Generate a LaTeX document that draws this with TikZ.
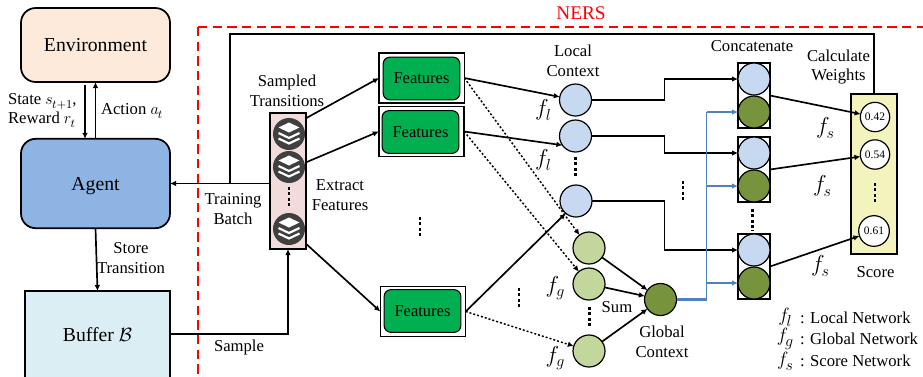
\documentclass[tikz,border=0pt]{standalone}
\usepackage{fontspec}
\setmainfont{Liberation Serif}
\usetikzlibrary{arrows.meta}
\definecolor{envc}{HTML}{FDEADA}
\definecolor{agentc}{HTML}{8EB4E3}
\definecolor{bufc}{HTML}{DBEEF4}
\definecolor{stripc}{HTML}{F2DCDB}
\definecolor{featc}{HTML}{00B050}
\definecolor{localc}{HTML}{C6D9F1}
\definecolor{greenc}{HTML}{C3D69B}
\definecolor{globc}{HTML}{77933C}
\definecolor{scorec}{HTML}{F3F3BE}
\definecolor{bluec}{HTML}{4F81BD}
\definecolor{iconc}{HTML}{404040}
\newcommand{\subb}[1]{\kern-.6pt\raisebox{-3pt}{\fontsize{9.5pt}{10pt}\selectfont$\mathsurround=0pt #1$}}
\newcommand{\fsub}[1]{$f$\kern-2.2pt\raisebox{-3.5pt}{\fontsize{11.5pt}{12pt}\selectfont$#1$}}
\tikzset{
  x=0.75pt,y=-0.75pt,
  every node/.style={inner sep=0pt,outer sep=0pt},
  line/.style={line width=1.25pt,draw=black},
  arr/.style={line,-{Latex[length=4.5pt,width=4.2pt]}},
  blarr/.style={line width=1.2pt,draw=bluec,-{Latex[length=4.5pt,width=4.2pt]}},
  dotarr/.style={line width=1.1pt,draw=black,dash pattern=on 1.5pt off 1.5pt,-{Latex[length=4.5pt,width=4.2pt]}},
  vdots/.style={line width=2pt,draw=black,dash pattern=on 2.2pt off 1.8pt},
  bigbox/.style={draw=black,line width=1.3pt,rounded corners=11pt,font=\fontsize{14.8pt}{17pt}\selectfont,minimum width=111.75pt,text depth=0pt},
  sqbox/.style={draw=black,line width=1.3pt},
  featout/.style={draw=black,line width=1.2pt,fill=white,minimum width=64pt,minimum height=37.5pt},
  featin/.style={draw=black,line width=.8pt,fill=featc,rounded corners=5pt,minimum width=57.5pt,minimum height=32pt,font=\fontsize{12.4pt}{14pt}\selectfont},
  circ/.style={circle,draw=black,line width=.9pt,minimum size=24pt},
  lc/.style={circ,fill=localc},
  gc/.style={circ,fill=greenc},
  dc/.style={circ,fill=globc},
  scirc/.style={circle,draw=black,line width=.9pt,fill=white,minimum size=22pt,font=\fontsize{8.6pt}{10pt}\selectfont},
  icon/.style={circle,fill=iconc,minimum size=24pt},
  concat/.style={draw=black,line width=1.4pt,fill=white,minimum width=24pt,minimum height=49pt},
  lab/.style={font=\fontsize{12.5pt}{14.8pt}\selectfont,align=center},
  fn/.style={font=\fontsize{17pt}{18pt}\selectfont},
  lgf/.style={font=\fontsize{15.5pt}{16pt}\selectfont},
  redline/.style={draw=red,line width=1.3pt,dash pattern=on 7pt off 4pt},
  layers/.pic={
    \fill[white] (-10.5,-6.5) -- (0,-11.5) -- (10.5,-6.5) -- (0,-1.5) -- cycle;
    \draw[white,line width=1.6pt] (-10.5,-1) -- (0,4) -- (10.5,-1);
    \draw[white,line width=1.6pt] (-10.5,4.5) -- (0,9.5) -- (10.5,4.5);
  },
}
\begin{document}
\begin{tikzpicture}
\clip (0,0) rectangle (923,376);
% red frame
\draw[redline] (198,27) -- (923,27);
\draw[redline] (198,27) -- (198,376);
\node[text=red,font=\fontsize{14.5pt}{16pt}\selectfont] (ners) at (581,13) {NERS};

% main boxes
\node[bigbox,fill=envc,minimum height=55.5pt] (env) at (95.5,45) {Environment};
\node[bigbox,fill=agentc,minimum height=67pt] (agent) at (95.5,183.5) {Agent};
\node[sqbox,fill=bufc,minimum width=108.75pt,minimum height=66pt,font=\fontsize{14.8pt}{17pt}\selectfont] (buffer) at (97.5,335) {Buffer $\mathcal{B}$};

% strip
\node[draw=black,line width=1.3pt,fill=stripc,minimum width=27pt,minimum height=102pt] (strip) at (288,181) {};
\node[icon] (i1) at (289,134) {};
\node[icon] (i2) at (289,167) {};
\node[icon] (i3) at (289,229) {};
\pic at (i1) {layers};
\pic at (i2) {layers};
\pic at (i3) {layers};
\draw[vdots] (289,187) -- (289,208);

% features
\node[featout] (fo1) at (421.7,78) {};
\node[featin] (f1) at (421.5,78.5) {Features};
\node[featout] (fo2) at (421.5,131.5) {};
\node[featin] (f2) at (420.5,132) {Features};
\node[featout] (fo3) at (423,311.5) {};
\node[featin] (f3) at (422.5,311) {Features};

% local
\node[lc] (l1) at (575.5,100) {};
\node[lc] (l2) at (575.5,136) {};
\node[lc] (l3) at (576,201) {};
% global inputs
\node[gc] (g1) at (589,248) {};
\node[gc] (g2) at (589,284) {};
\node[gc] (g3) at (589,351) {};
\node[dc] (gl) at (660.5,299.5) {};

% concatenate
\node[concat] (c1) at (754,95.5) {};
\node[concat] (c2) at (754,169.5) {};
\node[concat] (c3) at (754,266.5) {};
\node[lc] (c1a) at (754,79) {};
\node[dc] (c1b) at (754,112) {};
\node[lc] (c2a) at (754,153) {};
\node[dc] (c2b) at (754,186) {};
\node[lc] (c3a) at (754,250) {};
\node[dc] (c3b) at (754,283) {};

% score
\node[draw=black,line width=1.3pt,fill=scorec,minimum width=34.5pt,minimum height=120pt] (score) at (874,174) {};
\node[scirc] (s1) at (875,117) {0.42};
\node[scirc] (s2) at (875,154.5) {0.54};
\node[scirc,minimum size=23pt] (s3) at (874,231) {0.61};
\draw[vdots] (875,183) -- (875,204);

% connectors left
\coordinate (sa) at (85,85);
\draw[arr] (sa) -- (sa |- agent.north);
\draw[arr] (agent.north) -- (env.south);
\draw[arr] (agent.south) -- (buffer.north);
\draw[arr] (strip.west |- agent.east) -- (agent.east);
\coordinate (jn) at (230,183.5);
\coordinate (tr) at (230,34);
\draw[line] (jn) -- (tr) -| (score.north);
\coordinate (bs) at (170,334);
\draw[arr] (bs) -| (strip.south);

% strip to features
\draw[arr] (strip.74) -- (fo1.west);
\draw[arr] (strip.46) -- (fo2.west);
\draw[arr] (strip.-74) -- (fo3.west);

% features to contexts
\draw[arr] (fo1.east) -- (l1);
\draw[arr] (fo2.east) -- (l2.-145);
\draw[arr] (fo3.east) -- (l3.-130);
\draw[dotarr] (fo1.east) -- (g1);
\draw[dotarr] (fo2.east) -- (g2);
\draw[dotarr] (fo3.east) -- (g3);

% to global
\draw[arr] (g1) -- (gl);
\draw[arr] (g2) -- (gl);
\draw[arr] (g3) -- (gl);

% local to concat
\coordinate (m1) at (664.5,0);
\draw[arr] (l1.east) -| (m1 |- c1a.west) -- (c1a.west);
\draw[arr] (l2.east) -| (m1 |- c2a.west) -- (c2a.west);
\draw[arr] (l3.east) -| (m1 |- c3a.west) -- (c3a.west);

% global to concat
\coordinate (m2) at (706.5,0);
\draw[line width=1.9pt,draw=bluec] (gl.east) -- (m2 |- gl.east);
\draw[line width=1.4pt,draw=bluec] (m2 |- gl.east) -- (m2 |- c1b.west);
\draw[blarr] (m2 |- c1b.west) -- (c1b.west);
\draw[blarr] (m2 |- c2b.west) -- (c2b.west);
\draw[blarr] (m2 |- c3b.west) -- (c3b.west);

% concat to score
\draw[arr] (c1.east) -- (s1);
\draw[arr] (c2.east) -- (s2);
\draw[arr] (c3.east) -- (s3);

% dots
\draw[vdots] (420,217) -- (420,238);
\draw[vdots] (519,288) -- (519,309);
\draw[vdots] (589.5,307) -- (589.5,328);
\draw[vdots] (575.5,157) -- (575.5,178);
\draw[vdots] (683,181) -- (683,202);
\draw[vdots] (752.7,209) -- (752.7,231);

% labels
\node[lab,anchor=west,align=left] (t1) at (8,110.5) {State $s$\subb{t{+}1},\\Reward $r$\subb{t}};
\node[lab,anchor=west] (t2) at (101,111) {Action $a$\subb{t}};
\node[lab] (t3) at (233,209) {Training\\Batch};
\node[lab] (t4) at (287,90.5) {Sampled\\Transitions};
\node[lab] (t5) at (340,195) {Extract\\Features};
\node[lab] (t6) at (131,258) {Store\\Transition};
\node[lab] (t7) at (239,347) {Sample};
\node[lab] (t8) at (573,61) {Local\\Context};
\node[lab] (t9) at (752,46.5) {Concatenate};
\node[lab] (t10) at (838.5,67) {Calculate\\Weights};
\node[lab] (t11) at (875.5,272) {Score};
\node[lab] (t12) at (617,307) {Sum};
\node[lab] (t13) at (662,342) {Global\\Context};
\node[fn] (fl1) at (543,110) {\fsub{l}};
\node[fn] (fl2) at (543,160) {\fsub{l}};
\node[fn] (fg1) at (555,288) {\fsub{g}};
\node[fn] (fg2) at (555,358) {\fsub{g}};
\node[fn] (fs1) at (825,128) {\fsub{s}};
\node[fn] (fs2) at (822,186) {\fsub{s}};
\node[fn] (fs3) at (820,266) {\fsub{s}};
\node[lgf] (lg1) at (785,317) {\fsub{l}};
\node[lgf] (lg2) at (785,339) {\fsub{g}};
\node[lgf] (lg3) at (785,361) {\fsub{s}};
\node[lab,anchor=west] (lt1) at (800,318) {: Local Network};
\node[lab,anchor=west] (lt2) at (800,339) {: Global Network};
\node[lab,anchor=west] (lt3) at (800,361) {: Score Network};
\end{tikzpicture}
\end{document}
